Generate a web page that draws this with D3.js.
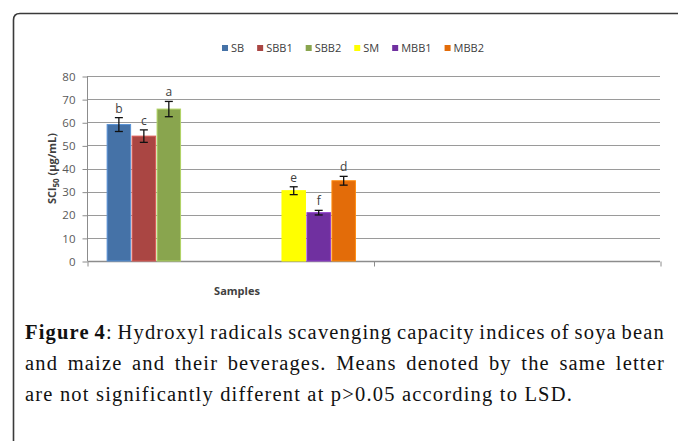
<!DOCTYPE html>
<html>
<head>
<meta charset="utf-8">
<script src="https://cdn.jsdelivr.net/npm/d3@7"></script>
<style>
    body { margin: 0; background: #fff; }
    svg { display: block; }
</style>
</head>
<body>
<script>
var series = ["SB", "SBB1", "SBB2", "SM", "MBB1", "MBB2"];
var values = [59, 54, 65.7, 30.4, 20.9, 34.7];
var errors = [3.0, 2.7, 3.3, 1.7, 1.0, 1.9];
var letters = ["b", "c", "a", "e", "f", "d"];
var colors = ["#4572a7", "#aa4643", "#89a54e", "#ffff00", "#7030a0", "#e36c09"];
// x axis slots: three soya samples, empty space, three maize samples
var slots = ["SB", "SBB1", "SBB2", "_1", "_2", "_3", "_4", "SM", "MBB1", "MBB2"];
var categories = ["Soya bean", "Maize"];
var yTicks = [0, 10, 20, 30, 40, 50, 60, 70, 80];
var captionLines = [
    "and maize and their beverages. Means denoted by the same letter",
    "are not significantly different at p>0.05 according to LSD."
];

var w = 678,
    h = 441,
    plotLeft = 87,
    plotRight = 660,
    plotTop = 76,
    plotBottom = 261;

var svg = d3.select("body").append("svg").attr("width", w).attr("height", h);

// outer frame, rounded top-left corner, runs off the right and bottom
svg.append("path")
    .attr("d", "M13.5," + (h + 5) + " L13.5,20 Q13.5,13.5 20,13.5 L" + (w + 5) + ",13.5")
    .attr("fill", "none")
    .attr("stroke", "#3a3a3a")
    .attr("stroke-width", 1.6);

var yScale = d3.scaleLinear().domain([0, 80]).range([plotBottom, plotTop]);

var xScale = d3.scaleBand()
    .domain(slots)
    .range([plotLeft, plotRight])
    .paddingInner(0.06)
    .paddingOuter(6.5)
    .align(0.062);

var catScale = d3.scaleLinear().domain([0, categories.length]).range([plotLeft, plotRight]);

// gridlines
svg.append("g").selectAll("line")
    .data(yTicks.slice(1))
    .enter().append("line")
    .attr("x1", plotLeft).attr("x2", plotRight)
    .attr("y1", function (d) { return Math.round(yScale(d)) + 0.5; })
    .attr("y2", function (d) { return Math.round(yScale(d)) + 0.5; })
    .attr("stroke", "#9a9a9a")
    .attr("stroke-width", 1);

var yAxisGen = d3.axisLeft(yScale).tickValues(yTicks).tickSize(5).tickPadding(7);
var yAxis = svg.append("g")
    .attr("transform", "translate(" + (plotLeft + 0.5) + ",0.5)")
    .call(yAxisGen);
yAxis.select(".domain").attr("stroke", "#8c8c8c").attr("d", "M0," + (plotBottom - 0.5) + "V" + (plotTop - 0.5));
yAxis.selectAll(".tick line").attr("stroke", "#8c8c8c");
yAxis.selectAll(".tick text")
    .attr("fill", "#595959")
    .style("font-family", "'Open Sans', sans-serif")
    .style("font-size", "11.5px");

var xAxisGen = d3.axisBottom(catScale).ticks(categories.length).tickSize(5).tickFormat("");
var xAxis = svg.append("g")
    .attr("transform", "translate(0.5," + (plotBottom + 0.5) + ")")
    .call(xAxisGen);
xAxis.select(".domain").attr("stroke", "#8c8c8c").attr("stroke-width", 1.3).attr("d", "M" + plotLeft + ",0H" + (plotRight - 0.5));
xAxis.selectAll(".tick line").attr("stroke", "#8c8c8c");

// bars
var data = series.map(function (s, i) {
    return { name: s, value: values[i], err: errors[i], letter: letters[i], color: colors[i] };
});

svg.append("g").selectAll("rect")
    .data(data)
    .enter().append("rect")
    .attr("x", function (d) { return xScale(d.name); })
    .attr("y", function (d) { return yScale(d.value); })
    .attr("width", xScale.bandwidth())
    .attr("height", function (d) { return yScale(0) - yScale(d.value); })
    .attr("fill", function (d) { return d.color; })
    .attr("stroke", function (d) { return d3.color(d.color).brighter(0.7); })
    .attr("stroke-width", 1);

// error bars
var eb = svg.append("g").attr("stroke", "#111").attr("stroke-width", 1.3);
data.forEach(function (d) {
    var cx = xScale(d.name) + xScale.bandwidth() / 2;
    var y1 = yScale(d.value + d.err), y2 = yScale(d.value - d.err);
    eb.append("line").attr("x1", cx).attr("x2", cx).attr("y1", y1).attr("y2", y2);
    eb.append("line").attr("x1", cx - 4).attr("x2", cx + 4).attr("y1", y1).attr("y2", y1);
    eb.append("line").attr("x1", cx - 4).attr("x2", cx + 4).attr("y1", y2).attr("y2", y2);
});

svg.append("g").selectAll("text")
    .data(data)
    .enter().append("text")
    .attr("x", function (d) { return xScale(d.name) + xScale.bandwidth() / 2; })
    .attr("y", function (d) { return yScale(d.value + d.err) - 5; })
    .attr("text-anchor", "middle")
    .attr("fill", "#404040")
    .style("font-family", "'Open Sans', sans-serif")
    .style("font-size", "12px")
    .text(function (d) { return d.letter; });

// axis titles
var yTitle = svg.append("text")
    .attr("transform", "translate(56," + ((plotTop + plotBottom) / 2) + ") rotate(-90)")
    .attr("text-anchor", "middle")
    .attr("fill", "#404040")
    .style("font-family", "'Open Sans', sans-serif")
    .style("font-size", "11px")
    .style("font-weight", "bold");
yTitle.append("tspan").text("SCl");
yTitle.append("tspan").attr("dy", 3).style("font-size", "8px").text("50");
yTitle.append("tspan").attr("dy", -3).text(" (\u00b5g/mL)");

svg.append("text")
    .attr("x", 237)
    .attr("y", 295)
    .attr("text-anchor", "middle")
    .attr("fill", "#404040")
    .style("font-family", "'Open Sans', sans-serif")
    .style("font-size", "11px")
    .style("font-weight", "bold")
    .text("Samples");

// legend
var legend = svg.append("g").attr("transform", "translate(0,52)");
var items = legend.selectAll("g").data(series).enter().append("g");
items.append("rect")
    .attr("width", 6).attr("height", 6).attr("y", -7)
    .attr("fill", function (d, i) { return colors[i]; });
items.append("text")
    .attr("x", 9)
    .attr("fill", "#404040")
    .style("font-family", "'Open Sans', sans-serif")
    .style("font-size", "11px")
    .text(function (d) { return d; });
var pos = 0, offsets = [];
items.each(function () {
    offsets.push(pos);
    pos += 9 + d3.select(this).select("text").node().getComputedTextLength() + 13;
});
var legendStart = 353 - (pos - 13) / 2;
items.attr("transform", function (d, i) { return "translate(" + (legendStart + offsets[i]) + ",0)"; });

// caption
var capX = 25, capRight = 665, capFont = "'Liberation Serif', 'Times New Roman', serif";
function capText(y) {
    return svg.append("text")
        .attr("x", capX).attr("y", y)
        .attr("fill", "#111")
        .style("font-family", capFont)
        .style("font-size", "20.5px");
}
var cap1 = capText(339);
cap1.append("tspan").style("font-weight", "bold").text("Figure 4");
cap1.append("tspan").text(": Hydroxyl radicals scavenging capacity indices of soya bean");
var cap2 = capText(370).text(captionLines[0]);
var cap3 = capText(401).text(captionLines[1]);

// the caption face is wider than Times: open up the letters to match the last line
var ls = (548 - cap3.node().getComputedTextLength()) / captionLines[1].length;
[cap1, cap2, cap3].forEach(function (t) { t.style("letter-spacing", ls + "px"); });

// justify the first two lines by stretching the word gaps
[cap1, cap2].forEach(function (t) {
    var len = t.node().getComputedTextLength();
    var gaps = t.text().split(" ").length - 1;
    t.style("word-spacing", ((capRight - capX - len) / gaps) + "px");
});
</script>
</body>
</html>
